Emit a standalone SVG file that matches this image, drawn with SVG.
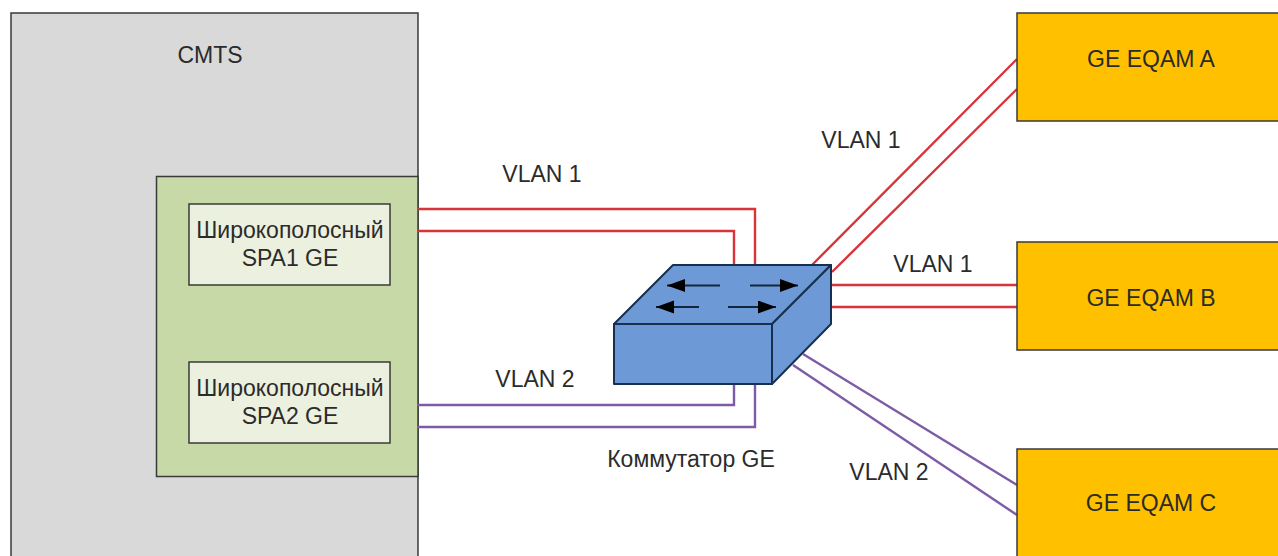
<svg xmlns="http://www.w3.org/2000/svg" width="1278" height="556" viewBox="0 0 1278 556">
<style>
text{font-family:"Liberation Sans",Arial,sans-serif;font-size:23px;fill:#2b2b2b;text-anchor:middle}
.box{stroke:#3a3a3a;stroke-width:1.5}
.red{fill:none;stroke:#d8343a;stroke-width:2.400}
.pur{fill:none;stroke:#7d5ba6;stroke-width:2.400}
.sw{fill:#6d9ad6;stroke:#16304f;stroke-width:2;stroke-linejoin:round}
.arr{stroke:#14263f;stroke-width:2;fill:none}
</style>
<defs><marker id="a" markerUnits="userSpaceOnUse" markerWidth="20" markerHeight="14" refX="18" refY="6.500" orient="auto"><path d="M0 0L18 6.500L0 13Z" fill="#000"/></marker></defs>
<rect width="1278" height="556" fill="#fff"/>
<g id="cmts"><path d="M11 556V13H418V556" fill="#d9d9d9" stroke="#3a3a3a" stroke-width="1.5"/><text x="210" y="63">CMTS</text></g>
<g id="card"><rect class="box" x="156.500" y="176.500" width="261.500" height="300" fill="#c8d9a8"/></g>
<g id="spa1"><rect class="box" x="189" y="204" width="201" height="81" fill="#ebf0df"/><text x="290" y="238">Широкополосный</text><text x="290" y="266">SPA1 GE</text></g>
<g id="spa2"><rect class="box" x="189" y="362" width="201" height="81" fill="#ebf0df"/><text x="290" y="396">Широкополосный</text><text x="290" y="424">SPA2 GE</text></g>
<g id="connectors">
<path class="red" d="M417 209H755V265M417 231H734V265"/>
<path class="pur" d="M417 405H734V384M417 427H755V384"/>
<path class="red" d="M812 265L1017 59M832 272L1017 89"/>
<path class="red" d="M831 285H1017M830 307H1017"/>
<path class="pur" d="M803 354L1017 485M793 365L1017 515"/>
</g>
<g id="switch">
<path class="sw" d="M673 265H831L772 324H614Z"/>
<path class="sw" d="M614 324H772V384H614Z"/>
<path class="sw" d="M772 324L831 265V324L772 384Z"/>
<path class="arr" d="M720 285.500H667" marker-end="url(#a)"/>
<path class="arr" d="M750 285.500H798" marker-end="url(#a)"/>
<path class="arr" d="M699 307H656" marker-end="url(#a)"/>
<path class="arr" d="M728 307H776" marker-end="url(#a)"/>
</g>
<g id="eqam-a"><rect class="box" x="1017" y="13" width="262" height="108" fill="#ffc000"/><text x="1151" y="67">GE EQAM A</text></g>
<g id="eqam-b"><rect class="box" x="1017" y="242" width="262" height="108" fill="#ffc000"/><text x="1151" y="306">GE EQAM B</text></g>
<g id="eqam-c"><rect class="box" x="1017" y="449" width="262" height="108" fill="#ffc000"/><text x="1151" y="511">GE EQAM C</text></g>
<g id="labels">
<text x="542" y="182">VLAN 1</text><text x="861" y="148">VLAN 1</text><text x="933" y="272">VLAN 1</text>
<text x="535" y="387">VLAN 2</text><text x="889" y="480">VLAN 2</text>
<text x="691" y="467">Коммутатор GE</text>
</g>
</svg>
